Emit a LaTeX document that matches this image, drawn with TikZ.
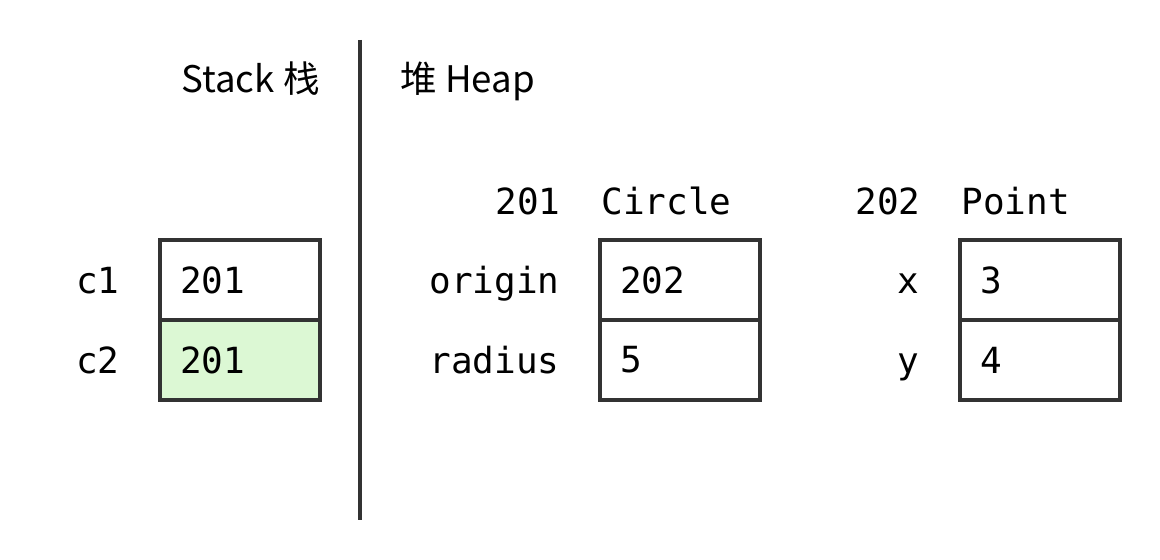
\documentclass[tikz,border=0pt]{standalone}
\usepackage{fontspec}
\setmainfont{Noto Sans CJK SC}
\setmonofont{DejaVu Sans Mono}
\usetikzlibrary{positioning}
\definecolor{linegray}{RGB}{51,51,51}
\definecolor{cellgreen}{RGB}{220,248,212}
\newcommand{\memfont}{\ttfamily\fontsize{18}{22}\selectfont}
\newcommand{\headingfont}{\fontsize{18.3}{22}\selectfont}
\tikzstyle{cell}=[rectangle, draw=linegray
,line width=2pt
,minimum height=40pt
,text width=60pt
,inner xsep=10pt
,inner ysep=0pt
,outer sep=0pt
,align=left
,font=\memfont
]
\tikzstyle{changed cell} = [cell, fill=cellgreen]
\tikzstyle{field} = [anchor=base east, inner sep=0pt, font=\memfont]
\tikzstyle{typename} = [anchor=base west, inner sep=0pt, font=\memfont]
\tikzstyle{heading} = [inner sep=0pt, font=\headingfont]
\tikzstyle{divider} = [draw=linegray, line width=2pt]

\begin{document}
\begin{tikzpicture}[x=0.5pt, y=-0.5pt]
    \useasboundingbox (0,0) rectangle (1160,560);
    % Stack on the left, heap on the right
    \node[heading, anchor=base east] (stack) at (320,93) {Stack 栈};
    \node[heading, anchor=base west] (heap) at (400,93) {堆 Heap};
    \coordinate (top) at (360,40);
    \coordinate (bottom) at (360,520);
    \path[divider] (top) -- (bottom);

    % First the top cell of each block
    \foreach \pos/\name/\val in {{(240,280)/c1/201}, {(680,280)/origin/202}, {(1040,280)/px/3}}
        \node[cell] (\name) at \pos {\val};

    % then the cells below them
    \node[changed cell, below=0pt of c1] (c2) {201};
    \foreach \above/\name/\val in {origin/radius/5, px/py/4}
        \node[cell, below=0pt of \above] (\name) {\val};

    % Field names left of the cells
    \foreach \cell/\lbl in {c1/c1, c2/c2, origin/origin, radius/radius, px/x, py/y}
        \node[field] (\cell label) at ([xshift=-20pt, yshift=-7pt]\cell.west) {\lbl};

    % Address and type of each heap object
    \foreach \cell/\addr/\type in {origin/201/Circle, px/202/Point}
    {
        \node[field] (\cell addr) at ([xshift=-19.5pt, yshift=12.5pt]\cell.north west) {\addr};
        \node[typename] (\cell type) at ([xshift=0.5pt, yshift=12.5pt]\cell.north west) {\type};
    }
\end{tikzpicture}
\end{document}
